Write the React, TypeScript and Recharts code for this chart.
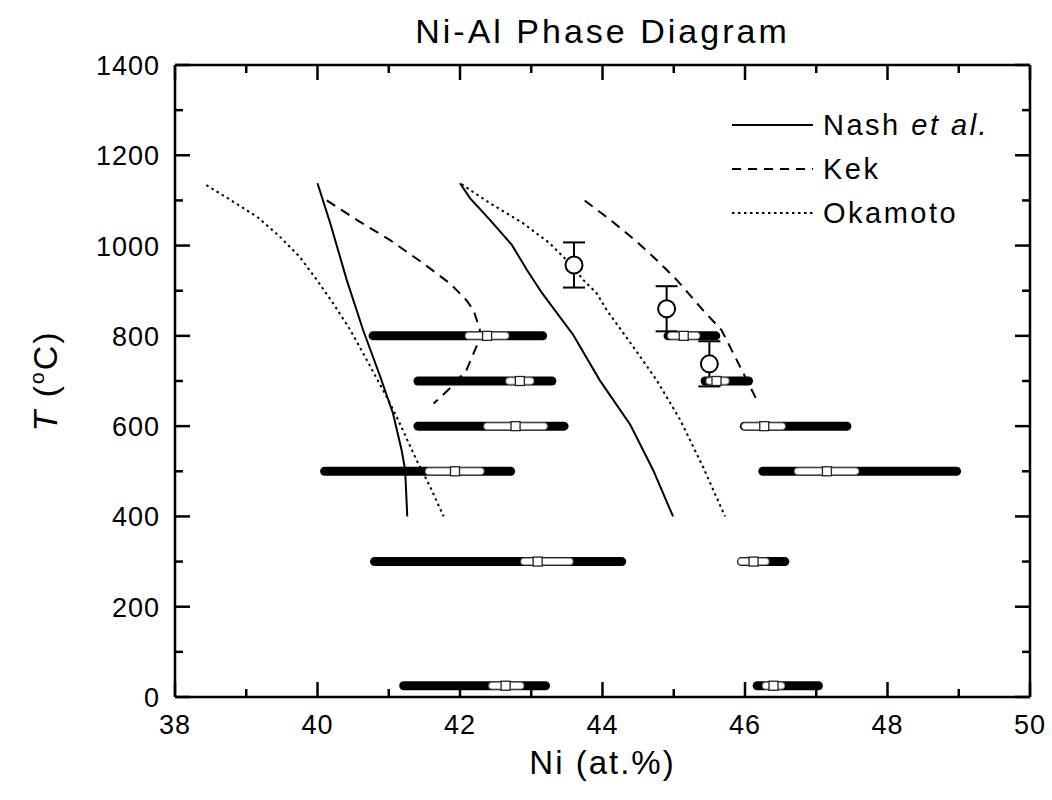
import { ScatterChart, Scatter, XAxis, YAxis, ErrorBar } from "recharts";

// phase boundaries, [Ni at.%, T in C]
const nashLeft = [[40.0, 1138], [40.18, 1049], [40.41, 924], [40.64, 813], [40.88, 710], [41.06, 628], [41.18, 547], [41.23, 503], [41.26, 400]];
const nashRight = [[42.0, 1138], [42.14, 1105], [42.42, 1057], [42.73, 1001], [42.94, 946], [43.15, 895], [43.59, 802], [43.96, 702], [44.39, 603], [44.71, 503], [44.99, 400]];
const kekLeft = [[40.13, 1100], [40.55, 1057], [41.02, 1012], [41.48, 961], [41.86, 916], [42.09, 879], [42.19, 857], [42.28, 813], [42.23, 776], [42.09, 724], [41.88, 687], [41.63, 650]];
const kekRight = [[43.75, 1100], [44.11, 1057], [44.48, 1009], [44.76, 968], [45.03, 926], [45.41, 857], [45.67, 813], [45.93, 732], [46.19, 650]];
const okaLeft = [[38.44, 1134], [38.82, 1097], [39.15, 1064], [39.47, 1020], [39.75, 975], [39.99, 924], [40.22, 872], [40.46, 813], [40.69, 747], [40.92, 680], [41.11, 621], [41.39, 525], [41.58, 466], [41.77, 400]];
const okaRight = [[42.02, 1136], [42.42, 1094], [42.89, 1049], [43.26, 1005], [43.59, 953], [43.73, 924], [43.92, 894], [44.06, 857], [44.43, 776], [44.76, 702], [45.09, 614], [45.41, 510], [45.72, 400]];

// measured composition ranges: black = full range, white = inner range, mid = square
const phaseBars = [
  { t: 800, lo: 40.78, hi: 43.16, wLo: 42.12, wHi: 42.64, mid: 42.38 },
  { t: 700, lo: 41.41, hi: 43.29, wLo: 42.69, wHi: 42.99, mid: 42.84 },
  { t: 600, lo: 41.41, hi: 43.46, wLo: 42.38, wHi: 43.18, mid: 42.78 },
  { t: 500, lo: 40.1, hi: 42.71, wLo: 41.56, wHi: 42.29, mid: 41.93 },
  { t: 300, lo: 40.8, hi: 44.27, wLo: 42.9, wHi: 43.54, mid: 43.09 },
  { t: 25, lo: 41.21, hi: 43.2, wLo: 42.45, wHi: 42.85, mid: 42.64 },
  { t: 800, lo: 44.92, hi: 45.59, wLo: 44.96, wHi: 45.32, mid: 45.14 },
  { t: 700, lo: 45.44, hi: 46.05, wLo: 45.5, wHi: 45.73, mid: 45.6 },
  { t: 600, lo: 45.99, hi: 47.43, wLo: 46.0, wHi: 46.52, mid: 46.27 },
  { t: 500, lo: 46.25, hi: 48.97, wLo: 46.74, wHi: 47.55, mid: 47.15 },
  { t: 300, lo: 45.95, hi: 46.56, wLo: 45.95, wHi: 46.29, mid: 46.12 },
  { t: 25, lo: 46.17, hi: 47.03, wLo: 46.29, wHi: 46.51, mid: 46.4 },
];

const circlePts = [
  { x: 43.6, y: 957, err: 50 },
  { x: 44.9, y: 860, err: 50 },
  { x: 45.5, y: 738, err: 50 },
];

const xTicks = [38, 39, 40, 41, 42, 43, 44, 45, 46, 47, 48, 49, 50];
const yTicks = [0, 100, 200, 300, 400, 500, 600, 700, 800, 900, 1000, 1100, 1200, 1300, 1400];

const FONT = '"Liberation Sans", Arial, sans-serif';
const pts = (a: number[][]) => a.map(([x, y]) => ({ x, y }));

const NoDot = () => <g />;
const SquareMark = (p: any) => (
  <rect x={p.cx - 4.5} y={p.cy - 4.5} width={9} height={9} fill="#fff" stroke="#222" strokeWidth={1.3} />
);
const OpenCircle = (p: any) => (
  <circle cx={p.cx} cy={p.cy} r={8.5} fill="#fff" stroke="#000" strokeWidth={2} />
);

const BottomTick = ({ x, y, payload }: any) => {
  const major = payload.value % 2 === 0;
  return (
    <g>
      <line x1={x} x2={x} y1={y} y2={y - (major ? 15 : 8)} stroke="#000" strokeWidth={2.5} />
      {major && (
        <text x={x} y={y + 37} textAnchor="middle" fontSize={27} letterSpacing={1} fontFamily={FONT} fill="#000">
          {payload.value}
        </text>
      )}
    </g>
  );
};
const TopTick = ({ x, y, payload }: any) => {
  const major = payload.value % 2 === 0;
  return <line x1={x} x2={x} y1={y} y2={y + (major ? 15 : 8)} stroke="#000" strokeWidth={2.5} />;
};
const LeftTick = ({ x, y, payload }: any) => {
  const major = payload.value % 200 === 0;
  return (
    <g>
      <line x1={x} x2={x + (major ? 15 : 8)} y1={y} y2={y} stroke="#000" strokeWidth={2.5} />
      {major && (
        <text x={x - 15} y={y + 10} textAnchor="end" fontSize={27} letterSpacing={1} fontFamily={FONT} fill="#000">
          {payload.value}
        </text>
      )}
    </g>
  );
};
const RightTick = ({ x, y, payload }: any) => {
  const major = payload.value % 200 === 0;
  return <line x1={x} x2={x - (major ? 15 : 8)} y1={y} y2={y} stroke="#000" strokeWidth={2.5} />;
};

const curves = [
  { data: nashLeft, dash: undefined },
  { data: nashRight, dash: undefined },
  { data: kekLeft, dash: "10 7" },
  { data: kekRight, dash: "10 7" },
  { data: okaLeft, dash: "2.5 3.5" },
  { data: okaRight, dash: "2.5 3.5" },
];

const legendRows = [
  { label: "Nash", italic: " et al.", dash: undefined },
  { label: "Kek", italic: "", dash: "9 7" },
  { label: "Okamoto", italic: "", dash: "2.5 3.5" },
];

const axisLine = { stroke: "#000", strokeWidth: 2.5 };

export default function App() {
  return (
    <div style={{ position: "relative", width: 1052, height: 800, background: "#fff", fontFamily: FONT }}>
      <style>{"body{margin:0;overflow:hidden}"}</style>
      <ScatterChart width={1052} height={800} margin={{ top: 55, right: 12, bottom: 43, left: 75 }}>
        <XAxis xAxisId="b" dataKey="x" type="number" domain={[38, 50]} allowDataOverflow ticks={xTicks} interval={0}
          tickSize={0} tickMargin={0} tickLine={false} axisLine={axisLine} tick={<BottomTick />} height={60} />
        <XAxis xAxisId="t" orientation="top" dataKey="x" type="number" domain={[38, 50]} allowDataOverflow ticks={xTicks}
          interval={0} tickSize={0} tickMargin={0} tickLine={false} axisLine={axisLine} tick={<TopTick />} height={10} />
        <YAxis yAxisId="l" dataKey="y" type="number" domain={[0, 1400]} allowDataOverflow ticks={yTicks} interval={0}
          tickSize={0} tickMargin={0} tickLine={false} axisLine={axisLine} tick={<LeftTick />} width={100} />
        <YAxis yAxisId="r" orientation="right" dataKey="y" type="number" domain={[0, 1400]} allowDataOverflow ticks={yTicks}
          interval={0} tickSize={0} tickMargin={0} tickLine={false} axisLine={axisLine} tick={<RightTick />} width={10} />

        {curves.map((c, i) => (
          <Scatter key={"c" + i} xAxisId="b" yAxisId="l" data={pts(c.data)} shape={NoDot} isAnimationActive={false}
            line={{ stroke: "#000", strokeWidth: 2, strokeDasharray: c.dash }} />
        ))}

        {phaseBars.map((b, i) => (
          <Scatter key={"bk" + i} xAxisId="b" yAxisId="l" data={[{ x: b.lo, y: b.t }, { x: b.hi, y: b.t }]}
            shape={NoDot} isAnimationActive={false} line={{ stroke: "#000", strokeWidth: 9, strokeLinecap: "round" }} />
        ))}
        {phaseBars.map((b, i) => (
          <Scatter key={"wg" + i} xAxisId="b" yAxisId="l" data={[{ x: b.wLo, y: b.t }, { x: b.wHi, y: b.t }]}
            shape={NoDot} isAnimationActive={false} line={{ stroke: "#8a8a8a", strokeWidth: 7.5, strokeLinecap: "round" }} />
        ))}
        {phaseBars.map((b, i) => (
          <Scatter key={"wh" + i} xAxisId="b" yAxisId="l" data={[{ x: b.wLo, y: b.t }, { x: b.wHi, y: b.t }]}
            shape={NoDot} isAnimationActive={false} line={{ stroke: "#fff", strokeWidth: 5.5, strokeLinecap: "round" }} />
        ))}
        <Scatter xAxisId="b" yAxisId="l" data={phaseBars.map((b) => ({ x: b.mid, y: b.t }))} shape={SquareMark}
          isAnimationActive={false} />

        <Scatter xAxisId="b" yAxisId="l" data={circlePts} shape={OpenCircle} isAnimationActive={false}>
          <ErrorBar dataKey="err" direction="y" width={11} stroke="#000" strokeWidth={2} />
        </Scatter>
      </ScatterChart>

      <div style={{ position: "absolute", left: 175, width: 855, top: 12, textAlign: "center", fontSize: 34, letterSpacing: 3 }}>
        Ni-Al Phase Diagram
      </div>
      <div style={{ position: "absolute", left: 175, width: 855, top: 744, textAlign: "center", fontSize: 33, letterSpacing: 2 }}>
        Ni (at.%)
      </div>
      <div style={{ position: "absolute", left: 45, top: 381, transform: "translate(-50%,-50%) rotate(-90deg)",
        whiteSpace: "nowrap", fontSize: 34, letterSpacing: 2 }}>
        <i>T</i> (<sup style={{ fontSize: 21 }}>o</sup>C)
      </div>

      <div style={{ position: "absolute", left: 732, top: 103 }}>
        {legendRows.map((r) => (
          <div key={r.label} style={{ display: "flex", alignItems: "center", height: 44 }}>
            <svg width={81} height={6} style={{ marginRight: 10 }}>
              <line x1={0} x2={81} y1={3} y2={3} stroke="#000" strokeWidth={2} strokeDasharray={r.dash} />
            </svg>
            <span style={{ fontSize: 29, letterSpacing: 2.5 }}>
              {r.label}
              {r.italic && <i>{r.italic}</i>}
            </span>
          </div>
        ))}
      </div>
    </div>
  );
}
